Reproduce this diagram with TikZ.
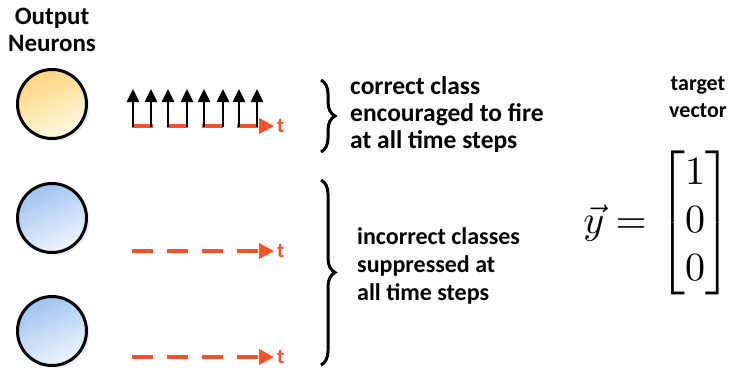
\documentclass[tikz,border=0pt]{standalone}
\usepackage{amsmath}
\usepackage{fontspec}
\setmainfont{Carlito}
\usetikzlibrary{arrows.meta,decorations.pathreplacing,shadows}

\definecolor{spikered}{RGB}{250,80,38}
\definecolor{firetop}{RGB}{255,212,125}
\definecolor{firebottom}{RGB}{255,250,228}
\definecolor{resttop}{RGB}{158,194,240}
\definecolor{restbottom}{RGB}{238,245,253}

\begin{document}
\begin{tikzpicture}[x=1pt,y=-1pt,
    neuron/.style={circle, draw=black, line width=3pt, minimum size=69pt, inner sep=0pt,
      drop shadow={shadow xshift=3pt, shadow yshift=-3pt, opacity=0.1, fill=blue!35!gray}},
    timeline/.style={draw=spikered, line width=3.5pt, dash pattern=on 21pt off 14pt,
      -{Triangle[width=15pt,length=15pt]}},
    spike/.style={draw=black, line width=2.5pt, -{Triangle[width=12pt,length=13pt]}},
    tlabel/.style={text=spikered, font=\bfseries\fontsize{21}{24}\selectfont, inner sep=3pt, anchor=west},
    label/.style={font=\bfseries\fontsize{25.5}{27}\selectfont, align=left, anchor=west, inner sep=0pt},
    heading/.style={font=\bfseries\fontsize{25}{27}\selectfont, align=center, inner sep=0pt},
    class brace/.style={draw=black, line width=3pt, decorate, decoration={brace, amplitude=14pt}}]
  \useasboundingbox (0,0) rectangle (732,370);

  \node at (52,30) [heading] (output title) {Output\\Neurons};
  \node at (52,104) [neuron, top color=firetop, bottom color=firebottom, shading angle=25] (neuron a) {};
  \node at (52,218) [neuron, top color=resttop, bottom color=restbottom, shading angle=25] (neuron b) {};
  \node at (52,331) [neuron, top color=resttop, bottom color=restbottom, shading angle=25] (neuron c) {};

  % time axes, one per neuron
  \coordinate (axis a) at (132,126);
  \coordinate (axis b) at (132,251);
  \coordinate (axis c) at (132,357);
  \node at (274,126) [tlabel] (t a) {t};
  \node at (274,251) [tlabel] (t b) {t};
  \node at (274,357) [tlabel] (t c) {t};
  \draw [timeline] (axis a) -- (t a.west);
  \draw [timeline] (axis b) -- (t b.west);
  \draw [timeline] (axis c) -- (t c.west);

  % spikes at every time step
  \foreach \x in {133,151,168,187,204,223,239,257}
    \draw [spike] (\x,127) -- (\x,89);

  \draw [class brace] (321,80) -- (321,152);
  \draw [class brace] (321,180) -- (321,365);
  \node at (350,115) [label] (correct text) {correct class\\encouraged to fire\\at all time steps};
  \node at (357,266) [label, font=\bfseries\fontsize{24}{28}\selectfont] (incorrect text) {incorrect classes\\suppressed at\\all time steps};

  \node at (698,97) [heading, font=\bfseries\fontsize{22}{27}\selectfont] (target title) {target\\vector};
  \node at (615,233) [inner sep=0pt, anchor=base] (y vec) {\scalebox{4}{$\vec{y} =$}};
  \node at (695,233) [inner sep=0pt, anchor=base] (target vec)
    {\scalebox{4}{$\begin{bmatrix}1\\0\\0\end{bmatrix}$}};
\end{tikzpicture}
\end{document}
